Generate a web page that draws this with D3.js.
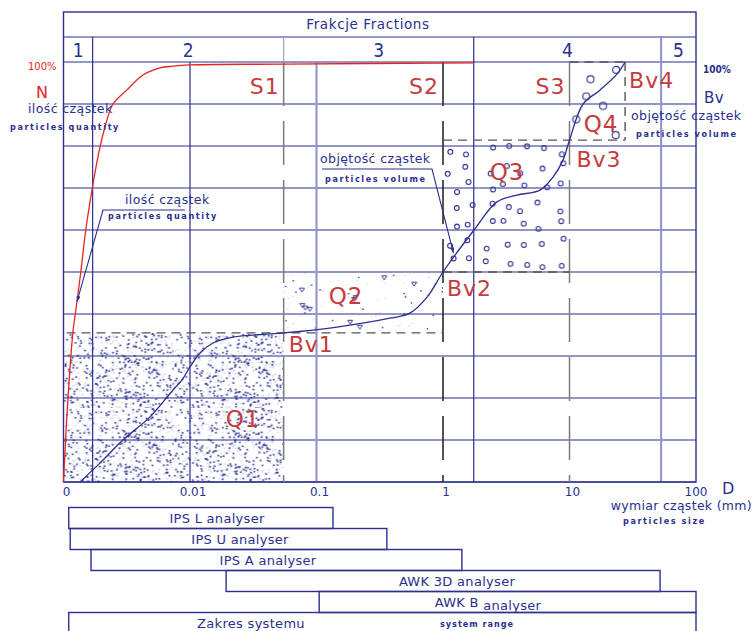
<!DOCTYPE html>
<html>
<head>
<meta charset="utf-8">
<script src="https://cdn.jsdelivr.net/npm/d3@7"></script>
<style>
  body { margin: 0; background: #fff; }
  svg { display: block; }
</style>
</head>
<body>
<script>
const width = 754, height = 631
const navy = "#2b2f8e", pale = "#8d90cb", red = "#e52421", redText = "#c63b3d"
const font = "DejaVu Sans, sans-serif"
const boldFont = "DejaVu Sans Condensed, DejaVu Sans, sans-serif"

// particle size axis (mm), log scale, left edge 0.001 is labelled "0"
const sizeTicks = [0.001, 0.01, 0.1, 1, 10, 100]
const sizeTickLabels = ["0", "0.01", "0.1", "1", "10", "100"]
const percentTicks = d3.range(0, 101, 10)

// fractions 1..5 and their limits
const fractionNames = ["1", "2", "3", "4", "5"]
const fractionBounds = [0.0017, 0.055, 1.75, 53]

// separating sizes S1..S3
const sLabels = ["S1", "S2", "S3"]
const sSizes = [0.055, 1, 10]

// volume break points Bv1..Bv4
const bvLabels = ["Bv1", "Bv2", "Bv3", "Bv4"]
const bvSizes = [0.055, 1, 10, 27.5]
const bvPercent = [35.5, 50, 81.4, 100]
const qLabels = ["Q1", "Q2", "Q3", "Q4"]

// cumulative particle quantity N (red)
const quantitySize = [0.001, 0.00107, 0.00119, 0.00124, 0.00137, 0.0015, 0.00169, 0.00192, 0.00215, 0.00246, 0.00316, 0.00425, 0.0058, 0.0073, 0.01, 0.055, 1.75]
const quantityPct  = [0, 17, 36, 40, 50, 60, 70, 79, 85, 90, 93.3, 96.9, 98.6, 99, 99.3, 99.5, 99.8]

// cumulative particle volume Bv (blue)
const volumeSize = [0.00135, 0.00194, 0.00295, 0.00483, 0.00734, 0.00865, 0.01, 0.012, 0.0152, 0.0219, 0.0406, 0.055, 0.145, 0.381, 0.548, 0.748, 1, 1.76, 2.67, 3.85, 5.85, 7.41, 8.9, 10, 12.8, 17.4, 23.7, 27.5]
const volumePct  = [0, 4.5, 10, 15.5, 21.9, 24.3, 27.4, 30.7, 33.1, 34.5, 35.2, 35.5, 36.9, 39, 40.2, 44, 50, 60, 66.7, 68.3, 69.5, 72.6, 76.7, 81.4, 90, 93.3, 97.1, 100]

// analysers and their measuring ranges (mm)
const analyserNames = ["IPS L  analyser", "IPS U analyser", "IPS A  analyser", "AWK 3D analyser", "AWK B|analyser", "Zakres systemu"]
const analyserFrom = [0.0011, 0.00113, 0.00165, 0.0193, 0.105, 0.0011]
const analyserTo   = [0.135, 0.36, 1.41, 52, 100, 100]

const x = d3.scaleLog().domain([0.001, 100]).range([63.5, 696])
const y = d3.scaleLinear().domain([0, 100]).range([482, 62])
const rowTop = 12, rowMid = 37

const svg = d3.select("body").append("svg")
  .attr("width", width)
  .attr("height", height)

const defs = svg.append("defs")
// deterministic integer hash, used only for the stipple textures
const h = n => {
  let t = Math.imul(n + 1, 0x9E3779B1)
  t ^= t >>> 15; t = Math.imul(t, 0x85EBCA77)
  t ^= t >>> 13; t = Math.imul(t, 0xC2B2AE3D)
  t ^= t >>> 16
  return (t >>> 0) / 4294967296
}

function pattern(id, x0, y0, w, hh) {
  return defs.append("pattern").attr("id", id)
    .attr("patternUnits", "userSpaceOnUse")
    .attr("x", x0).attr("y", y0).attr("width", w).attr("height", hh)
}
function specks(p, w, hh, n, seed, fill, sz) {
  p.append("g").selectAll("rect").data(d3.range(n)).join("rect")
    .attr("x", i => h(seed + i * 2) * w)
    .attr("y", i => h(seed + i * 2 + 1) * hh)
    .attr("width", sz).attr("height", sz)
    .attr("fill", fill)
}

// Q1 - fine sand
const q1 = pattern("q1", x(0.001), y(35.5), 110, 75)
specks(q1, 110, 75, 320, 11, "#cfd1e7", 1.5)
specks(q1, 110, 75, 330, 5017, navy, 1.6)

// Q2 - sparse grains
const q2w = x(1) - x(0.055), q2h = y(35.5) - y(50)
const q2 = pattern("q2", x(0.055), y(50), q2w, q2h)
specks(q2, q2w, q2h, 70, 901, "#d6d8ea", 1.4)
specks(q2, q2w, q2h, 24, 1303, navy, 1.4)
q2.append("g").selectAll("path").data(d3.range(10)).join("path")
  .attr("d", i => {
    const px = 6 + h(1701 + i) * (q2w - 12), py = 5 + h(1801 + i) * (q2h - 10)
    return `M${px - 2.5},${py - 2}L${px + 2.5},${py - 2}L${px},${py + 2}Z`
  })
  .attr("fill", "none").attr("stroke", navy).attr("stroke-width", 0.9)

// Q3, Q4 - coarse grains (circles on a jittered grid)
function circles(id, s0, s1, p0, p1, cols, rows, r, seed) {
  const x0 = x(s0), y0 = y(p1), w = x(s1) - x0, hh = y(p0) - y0
  const p = pattern(id, x0, y0, w, hh)
  const cw = w / cols, ch = hh / rows
  p.selectAll("circle").data(d3.range(cols * rows)).join("circle")
    .attr("cx", i => (i % cols + 0.5) * cw + (h(seed + i) - 0.5) * (cw - 2 * r - 3))
    .attr("cy", i => (Math.floor(i / cols) + 0.5) * ch + (h(seed + 97 + i) - 0.5) * (ch - 2 * r - 3))
    .attr("r", r)
    .attr("fill", "none").attr("stroke", navy).attr("stroke-width", 1.1)
}
circles("q3", 1, 10, 50, 81.4, 7, 7, 2.4, 2001)
circles("q4", 10, 27.5, 81.4, 100, 2, 3, 3.5, 3001)

// textured areas
const qBoxes = [[0.001, 0.055, 0, 35.5, "q1"], [0.055, 1, 35.5, 50, "q2"], [1, 10, 50, 81.4, "q3"], [10, 27.5, 81.4, 100, "q4"]]
svg.append("g").selectAll("rect").data(qBoxes).join("rect")
  .attr("x", d => x(d[0]))
  .attr("y", d => y(d[3]))
  .attr("width", d => x(d[1]) - x(d[0]))
  .attr("height", d => y(d[2]) - y(d[3]))
  .attr("fill", d => `url(#${d[4]})`)

// grid
const grid = svg.append("g").attr("stroke-width", 1.2)
grid.selectAll(".hl").data(percentTicks).join("line")
  .attr("x1", x(0.001)).attr("x2", x(100))
  .attr("y1", d => y(d)).attr("y2", d => y(d))
  .attr("stroke", navy)
grid.append("line").attr("x1", x(0.001)).attr("x2", x(100)).attr("y1", rowMid).attr("y2", rowMid).attr("stroke", navy)
grid.append("line").attr("x1", x(0.01)).attr("x2", x(0.01)).attr("y1", y(100)).attr("y2", y(0)).attr("stroke", navy)
grid.append("line").attr("x1", x(0.1)).attr("x2", x(0.1)).attr("y1", y(100)).attr("y2", y(0)).attr("stroke", pale).attr("stroke-width", 2)

const boundColor = [navy, "#a3a5c6", navy, pale]
grid.selectAll(".fb").data(fractionBounds).join("line")
  .attr("x1", d => x(d)).attr("x2", d => x(d))
  .attr("y1", rowMid).attr("y2", (d, i) => i === 1 ? y(100) : y(0))
  .attr("stroke", (d, i) => boundColor[i])
  .attr("stroke-width", (d, i) => i === 3 ? 2 : 1.2)

// outer frame
svg.append("rect")
  .attr("x", x(0.001)).attr("y", rowTop)
  .attr("width", x(100) - x(0.001)).attr("height", y(0) - rowTop)
  .attr("fill", "none").attr("stroke", navy).attr("stroke-width", 1.4)

// separating sizes
const sColor = ["#7b7b7b", "#1c1c1c", "#7b7b7b"]
svg.append("g").selectAll("line").data(sSizes).join("line")
  .attr("x1", d => x(d)).attr("x2", d => x(d))
  .attr("y1", y(100)).attr("y2", y(0))
  .attr("stroke", (d, i) => sColor[i])
  .attr("stroke-width", 1.5)
  .attr("stroke-dasharray", "44,15")

// dashed limits of Q areas
const dashed = [
  [x(0.001) + 3, y(bvPercent[0]), x(bvSizes[1]), y(bvPercent[0])],
  [x(bvSizes[1]), y(bvPercent[1]), x(bvSizes[2]), y(bvPercent[1])],
  [x(bvSizes[1]), y(bvPercent[2]), x(bvSizes[3]), y(bvPercent[2])],
  [x(bvSizes[2]), y(bvPercent[3]), x(bvSizes[3]), y(bvPercent[3])],
  [x(bvSizes[3]), y(bvPercent[3]), x(bvSizes[3]), y(bvPercent[2])]
]
svg.append("g").selectAll("line").data(dashed).join("line")
  .attr("x1", d => d[0]).attr("y1", d => d[1])
  .attr("x2", d => d[2]).attr("y2", d => d[3])
  .attr("stroke", "#555").attr("stroke-width", 1.4)
  .attr("stroke-dasharray", "9,6")

// curves
const line = d3.line().x(d => x(d[0])).y(d => y(d[1])).curve(d3.curveCatmullRom.alpha(0.5))
svg.append("path")
  .attr("d", line(quantitySize.map((s, i) => [s, quantityPct[i]])))
  .attr("fill", "none").attr("stroke", red).attr("stroke-width", 1.3)
svg.append("path")
  .attr("d", line(volumeSize.map((s, i) => [s, volumePct[i]])))
  .attr("fill", "none").attr("stroke", navy).attr("stroke-width", 1.3)

// header texts
svg.append("text").attr("x", 368).attr("y", 29)
  .attr("text-anchor", "middle").attr("font-family", font).attr("font-size", 13.5)
  .attr("letter-spacing", 0.6).attr("fill", navy).text("Frakcje Fractions")
const fEdges = [0.001, ...fractionBounds, 100]
svg.append("g").selectAll("text").data(fractionNames).join("text")
  .attr("x", (d, i) => (x(fEdges[i]) + x(fEdges[i + 1])) / 2)
  .attr("y", 57)
  .attr("text-anchor", "middle").attr("font-family", boldFont).attr("font-size", 19)
  .attr("fill", navy).text(d => d)

// red labels
svg.append("g").selectAll("text").data(sLabels).join("text")
  .attr("x", (d, i) => x(sSizes[i]) - 4).attr("y", 94)
  .attr("text-anchor", "end").attr("font-family", font).attr("font-size", 22)
  .attr("letter-spacing", 1).attr("fill", redText).text(d => d)
const bvDx = [5, 4, 7, 4], bvDy = [19, 24, 27, 26]
svg.append("g").selectAll("text").data(bvLabels).join("text")
  .attr("x", (d, i) => x(bvSizes[i]) + bvDx[i]).attr("y", (d, i) => y(bvPercent[i]) + bvDy[i])
  .attr("font-family", font).attr("font-size", 22)
  .attr("letter-spacing", 1).attr("fill", redText).text(d => d)
const qPos = [[243, 427], [346, 304], [507, 180], [601, 132]]
svg.append("g").selectAll("text").data(qLabels).join("text")
  .attr("x", (d, i) => qPos[i][0]).attr("y", (d, i) => qPos[i][1])
  .attr("text-anchor", "middle").attr("font-family", font).attr("font-size", 23)
  .attr("letter-spacing", 1).attr("fill", redText).text(d => d)

// side and annotation texts
function txt(t, tx, ty, o = {}) {
  return svg.append("text").attr("x", tx).attr("y", ty)
    .attr("text-anchor", o.anchor || "start")
    .attr("font-family", o.bold ? boldFont : font)
    .attr("font-weight", o.bold ? "bold" : "normal")
    .attr("font-size", o.size || 12.5)
    .attr("letter-spacing", o.ls != null ? o.ls : (o.bold ? 1.6 : 0.4))
    .attr("fill", o.fill || navy)
    .text(t)
}
txt("100%", 28, 70, {size: 10, fill: red, ls: 0})
txt("N", 36, 98, {size: 16, fill: red})
txt("ilość cząstek", 28, 113)
txt("particles quantity", 10, 130, {bold: true, size: 9})
txt("100%", 703, 73, {size: 10, bold: true, ls: 0})
txt("Bv", 704, 103, {size: 15})
txt("objętość cząstek", 631, 120)
txt("particles volume", 636, 137, {bold: true, size: 9})

txt("ilość cząstek", 125, 204)
txt("particles quantity", 108, 219, {bold: true, size: 9})
txt("objętość cząstek", 320, 163)
txt("particles volume", 325, 182, {bold: true, size: 9})

defs.append("marker").attr("id", "arr")
  .attr("viewBox", "0 0 8 6").attr("refX", 8).attr("refY", 3)
  .attr("markerWidth", 5).attr("markerHeight", 4).attr("orient", "auto")
  .append("path").attr("d", "M0,0L8,3L0,6Z").attr("fill", navy)
const leaders = [
  [[185, 210], [103, 210], [x(0.00128), y(43)]],
  [[322, 169], [432, 169], [x(1.21), y(54.5)]]
]
svg.append("g").selectAll("path").data(leaders).join("path")
  .attr("d", d => d3.line()(d))
  .attr("fill", "none").attr("stroke", navy).attr("stroke-width", 1.1)
  .attr("marker-end", "url(#arr)")

// size axis labels
svg.append("g").selectAll("text").data(sizeTicks).join("text")
  .attr("x", (d, i) => x(d) + (i === sizeTicks.length - 1 ? 0 : 3)).attr("y", 496)
  .attr("text-anchor", "middle").attr("font-family", font).attr("font-size", 12)
  .attr("fill", navy).text((d, i) => sizeTickLabels[i])
txt("D", 722, 494, {size: 16})
txt("wymiar cząstek (mm)", 752, 510, {anchor: "end", ls: 0.3})
txt("particles size", 623, 524, {bold: true, size: 9})

// analyser ranges
const rowH = 21, rowY0 = 507.5
const labelX = [217, 240, 268, 457, 488, 251]
const an = svg.append("g")
an.selectAll("rect").data(analyserNames).join("rect")
  .attr("x", (d, i) => x(analyserFrom[i]))
  .attr("y", (d, i) => rowY0 + i * rowH)
  .attr("width", (d, i) => x(analyserTo[i]) - x(analyserFrom[i]))
  .attr("height", (d, i) => i === 5 ? 40 : rowH)
  .attr("fill", "none").attr("stroke", navy).attr("stroke-width", 1.4)
an.selectAll("text").data(analyserNames).join("text")
  .attr("x", (d, i) => labelX[i])
  .attr("y", (d, i) => rowY0 + i * rowH + 15)
  .attr("text-anchor", "middle").attr("font-family", font).attr("font-size", 13)
  .attr("letter-spacing", 0.3).attr("fill", navy)
  .selectAll("tspan").data(d => d.split("|")).join("tspan")
    .attr("dy", (d, i) => i ? 3 : 0)
    .text((d, i) => i ? " " + d : d)
txt("system range", 440, 627, {bold: true, size: 9, ls: 1})
</script>
</body>
</html>
